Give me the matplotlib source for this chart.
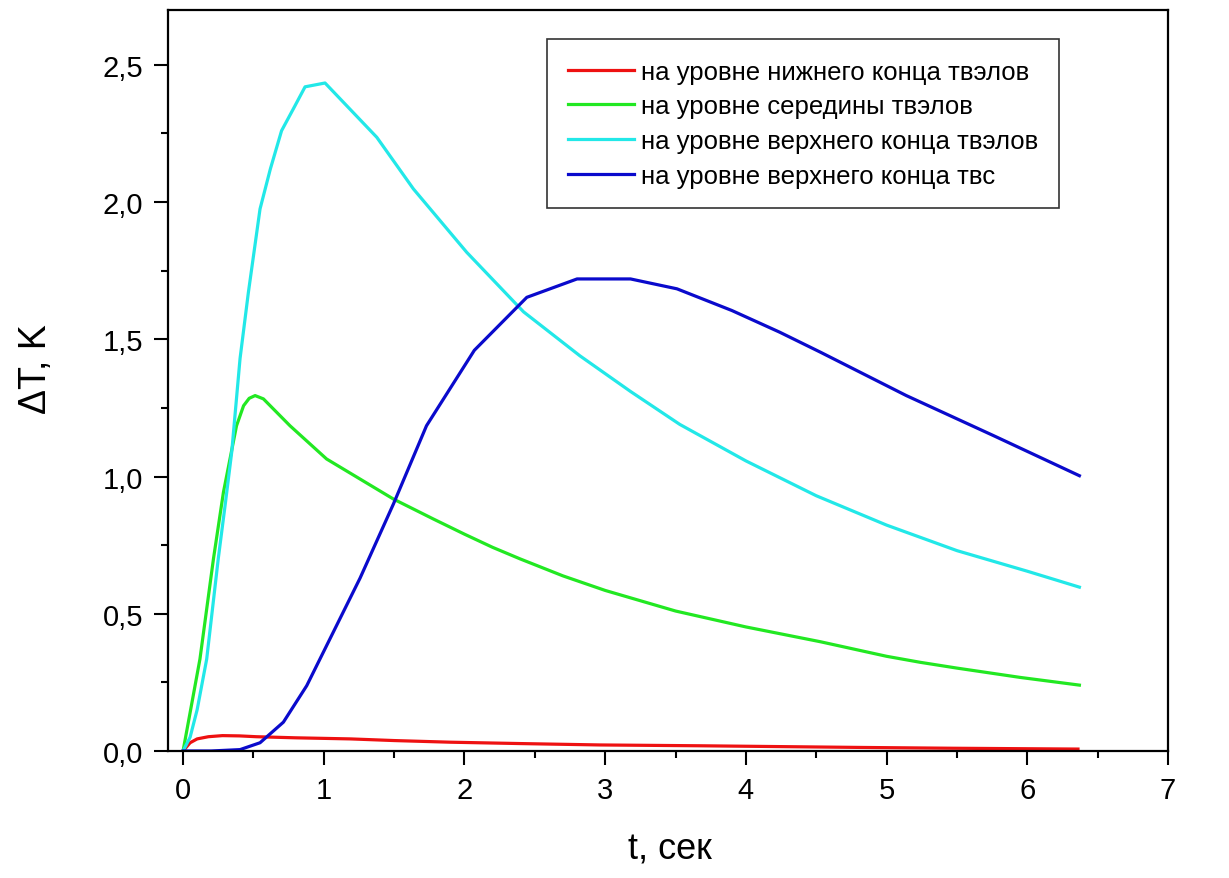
import matplotlib
matplotlib.use("Agg")
import matplotlib.pyplot as plt
from matplotlib.ticker import MultipleLocator, FuncFormatter

plt.rcParams["font.family"] = ["Liberation Sans", "DejaVu Sans"]

# данные
t_red = [0.0, 0.05, 0.10, 0.18, 0.28, 0.40, 0.52, 0.80, 1.19, 1.50, 1.90, 2.40, 2.96, 3.67, 4.05, 4.80, 5.47, 6.36]
dT_red = [0.0, 0.030, 0.044, 0.052, 0.056, 0.055, 0.052, 0.048, 0.044, 0.038, 0.032, 0.027, 0.022, 0.019, 0.017, 0.013, 0.010, 0.007]

t_green = [0.0, 0.12, 0.216, 0.287, 0.38, 0.43, 0.47, 0.512, 0.571, 0.76, 1.02, 1.495, 1.78, 2.0, 2.2, 2.395, 2.7,
           3.0, 3.5, 4.0, 4.53, 5.0, 5.24, 5.5, 5.95, 6.37]
dT_green = [0.0, 0.335, 0.70, 0.943, 1.185, 1.258, 1.285, 1.295, 1.283, 1.185, 1.064, 0.918, 0.845, 0.79, 0.742, 0.70, 0.638,
            0.585, 0.51, 0.452, 0.398, 0.345, 0.323, 0.302, 0.268, 0.24]

t_cyan = [0.0, 0.05, 0.10, 0.168, 0.25, 0.30, 0.346, 0.405, 0.464, 0.547, 0.62, 0.70, 0.784, 0.867, 1.009, 1.377,
          1.637, 2.016, 2.42, 2.82, 3.18, 3.53, 4.0, 4.5, 5.0, 5.5, 6.0, 6.37]
dT_cyan = [0.0, 0.05, 0.15, 0.335, 0.70, 0.90, 1.09, 1.43, 1.67, 1.975, 2.12, 2.26, 2.34, 2.42, 2.434, 2.236,
           2.048, 1.817, 1.60, 1.44, 1.31, 1.19, 1.057, 0.93, 0.823, 0.73, 0.655, 0.597]

t_blue = [0.0, 0.20, 0.405, 0.547, 0.713, 0.879, 0.997, 1.258, 1.495, 1.73, 2.07, 2.443, 2.80, 3.18, 3.51, 3.9,
          4.24, 4.53, 5.14, 5.76, 6.37]
dT_blue = [0.0, 0.0, 0.005, 0.03, 0.105, 0.238, 0.36, 0.63, 0.90, 1.185, 1.46, 1.653, 1.72, 1.72, 1.684, 1.605,
           1.526, 1.453, 1.295, 1.149, 1.003]

labels = [
    "на уровне нижнего конца твэлов",
    "на уровне середины твэлов",
    "на уровне верхнего конца твэлов",
    "на уровне верхнего конца твс",
]
colors = ["#ee1111", "#22e822", "#22e8e8", "#0a0acc"]

fig = plt.figure(figsize=(12.29, 8.79), dpi=100)
ax = fig.add_axes([0.1367, 0.1445, 0.8137, 0.843])

series = [(t_red, dT_red), (t_green, dT_green), (t_cyan, dT_cyan), (t_blue, dT_blue)]
for (x, y), lab, c in zip(series, labels, colors):
    ax.plot(x, y, color=c, lw=2.3, label=lab, solid_joinstyle="round")

ax.set_xlim(-0.107, 7)
ax.set_ylim(0, 2.7)

ax.xaxis.set_major_locator(MultipleLocator(1))
ax.xaxis.set_minor_locator(MultipleLocator(0.5))
ax.yaxis.set_major_locator(MultipleLocator(0.5))
ax.yaxis.set_minor_locator(MultipleLocator(0.25))
ax.yaxis.set_major_formatter(FuncFormatter(lambda v, p: f"{v:.1f}".replace(".", ",")))
ax.xaxis.set_major_formatter(FuncFormatter(lambda v, p: f"{v:.0f}"))

ax.tick_params(which="both", direction="out", width=1.5, labelsize=21)
ax.tick_params(which="major", length=10, pad=8)
ax.tick_params(which="minor", length=5)
for s in ax.spines.values():
    s.set_linewidth(1.6)

ax.set_xlabel("t, сек", fontsize=26, ha="center", va="center")
ax.set_ylabel("ΔT, K", fontsize=27, ha="center", va="center")
ax.xaxis.set_label_coords(0.502, -0.132)
ax.yaxis.set_label_coords(-0.132, 0.517)

leg = ax.legend(
    loc="upper left", bbox_to_anchor=(547 / 1229, 1 - 40 / 879),
    bbox_transform=fig.transFigure, borderaxespad=0,
    fontsize=18.5, handlelength=2.6, handletextpad=0.25,
    labelspacing=0.42, borderpad=0.8, fancybox=False,
    edgecolor="#333333", framealpha=1,
)
leg.get_frame().set_linewidth(1.2)

plt.savefig("out.png", dpi=100)
plt.close(fig)
